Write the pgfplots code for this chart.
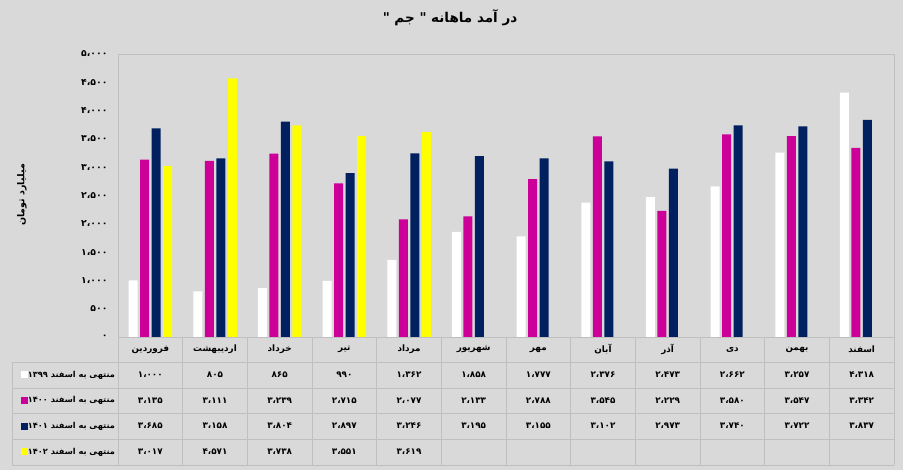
\documentclass[border=0pt]{standalone}
\usepackage{pgfplots}
\pgfplotsset{compat=1.18}
\usepackage{fontspec}
\newfontfamily\arabicfont[Script=Arabic]{DejaVu Sans}
\TeXXeTstate=1
\definecolor{bg}{HTML}{D9D9D9}
\definecolor{ln}{HTML}{BFBFBF}
\definecolor{mag}{HTML}{CC0099}
\definecolor{nav}{HTML}{002060}
\definecolor{yel}{HTML}{FFFF00}
\newcommand{\tf}{\arabicfont\bfseries\fontsize{8.8}{10}\selectfont}
\newcommand{\lf}{\arabicfont\bfseries\fontsize{8.2}{10}\selectfont}
\begin{document}
\begin{tikzpicture}[x=1pt,y=1pt]
\fill[bg] (0,0) rectangle (903,470);
\begin{axis}[
  at={(118pt,133pt)}, anchor=south west,
  scale only axis, width=776pt, height=283pt,
  xmin=-0.5, xmax=11.5, ymin=0, ymax=5000,
  ybar=2.5pt, bar width=9pt,
  axis line style={draw=ln, line width=0.8pt},
  xtick=\empty,
  ytick={0,500,...,5000},
  yticklabels={{۰},{۵۰۰},{۱،۰۰۰},{۱،۵۰۰},{۲،۰۰۰},{۲،۵۰۰},{۳،۰۰۰},{۳،۵۰۰},{۴،۰۰۰},{۴،۵۰۰},{۵،۰۰۰}},
  major tick length=0pt,
  yticklabel style={font=\arabicfont\bfseries\fontsize{9.3}{10}\selectfont, xshift=-7pt},
  clip=false,
  legend cell align=right,
  legend style={at={(axis description cs:-0.0039,-0.0883)}, anchor=north east,
    draw=none, fill=none, inner sep=0pt, outer sep=0pt, row sep=0pt,
    nodes={minimum height=25.7pt, inner sep=0pt, font=\lf},
    /tikz/every even column/.append style={column sep=5pt}},
  legend image code/.code={\fill[#1] (0pt,-3.5pt) rectangle (7pt,3.5pt);},
]
\addplot[fill=white, draw=none] coordinates {(0,1000) (1,805) (2,865) (3,990) (4,1362) (5,1858) (6,1777) (7,2376) (8,2473) (9,2662) (10,3257) (11,4318)};
\addlegendentry{\beginR منتهی به اسفند ۱۳۹۹\endR}
\addplot[fill=mag, draw=none] coordinates {(0,3135) (1,3111) (2,3239) (3,2715) (4,2077) (5,2133) (6,2788) (7,3545) (8,2229) (9,3580) (10,3547) (11,3342)};
\addlegendentry{\beginR منتهی به اسفند ۱۴۰۰\endR}
\addplot[fill=nav, draw=none] coordinates {(0,3685) (1,3158) (2,3804) (3,2897) (4,3246) (5,3195) (6,3155) (7,3102) (8,2973) (9,3740) (10,3722) (11,3837)};
\addlegendentry{\beginR منتهی به اسفند ۱۴۰۱\endR}
\addplot[fill=yel, draw=none] coordinates {(0,3017) (1,4571) (2,3738) (3,3551) (4,3619)};
\addlegendentry{\beginR منتهی به اسفند ۱۴۰۲\endR}
\end{axis}
% table grid
\begin{scope}[draw=ln, line width=0.8pt]
\foreach \y in {108,82,57,31,5} \draw (12,\y) -- (894,\y);
\draw (12,108) -- (12,5);
\foreach \k in {0,...,12} \draw ({118+64.6667*\k},133) -- ({118+64.6667*\k},5);
\end{scope}
% header
\foreach \m [count=\i from 0] in {فروردین,اردیبهشت,خرداد,تیر,مرداد,شهریور,مهر,آبان,آذر,دی,بهمن,اسفند}
  \node[font=\tf] at ({150.33+64.6667*\i},120.5) {\beginR\m\endR};
\foreach \v [count=\i from 0] in {۱،۰۰۰,۸۰۵,۸۶۵,۹۹۰,۱،۳۶۲,۱،۸۵۸,۱،۷۷۷,۲،۳۷۶,۲،۴۷۳,۲،۶۶۲,۳،۲۵۷,۴،۳۱۸}
  \node[font=\tf] at ({150.33+64.6667*\i},95) {\v};
\foreach \v [count=\i from 0] in {۳،۱۳۵,۳،۱۱۱,۳،۲۳۹,۲،۷۱۵,۲،۰۷۷,۲،۱۳۳,۲،۷۸۸,۳،۵۴۵,۲،۲۲۹,۳،۵۸۰,۳،۵۴۷,۳،۳۴۲}
  \node[font=\tf] at ({150.33+64.6667*\i},69.5) {\v};
\foreach \v [count=\i from 0] in {۳،۶۸۵,۳،۱۵۸,۳،۸۰۴,۲،۸۹۷,۳،۲۴۶,۳،۱۹۵,۳،۱۵۵,۳،۱۰۲,۲،۹۷۳,۳،۷۴۰,۳،۷۲۲,۳،۸۳۷}
  \node[font=\tf] at ({150.33+64.6667*\i},44) {\v};
\foreach \v [count=\i from 0] in {۳،۰۱۷,۴،۵۷۱,۳،۷۳۸,۳،۵۵۱,۳،۶۱۹}
  \node[font=\tf] at ({150.33+64.6667*\i},18) {\v};
% title and y label
\node[font=\arabicfont\bfseries\fontsize{13.5}{15}\selectfont] at (450,452) {\beginR در آمد ماهانه " جم "\endR};
\node[font=\arabicfont\bfseries\fontsize{9.5}{11}\selectfont, rotate=90] at (22,275) {\beginR میلیارد تومان\endR};
\end{tikzpicture}
\end{document}
